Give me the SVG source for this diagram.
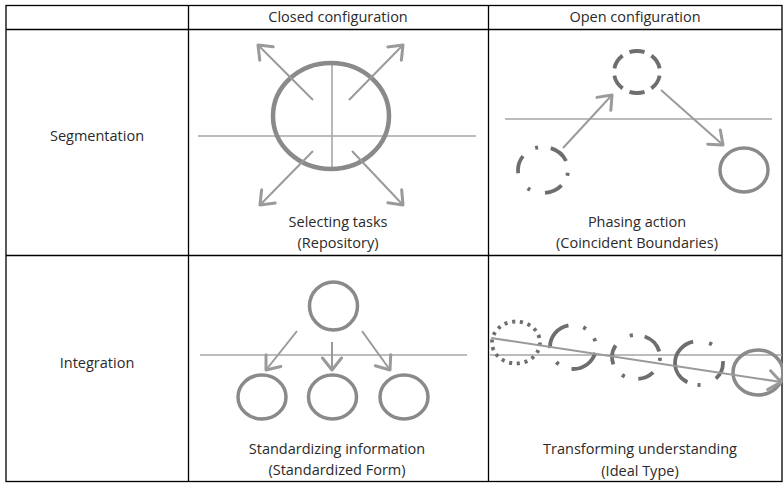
<svg xmlns="http://www.w3.org/2000/svg" width="783" height="484" viewBox="0 0 783 484">
  <style>
    text { font-family: "Open Sans", "Noto Sans", "Liberation Sans", sans-serif; font-size: 14.5px; fill: #2a2a2a; text-anchor: middle; }
    .grid { stroke: #000; stroke-width: 1.3; fill: none; }
    .axis { stroke: #a6a6a6; stroke-width: 1.6; fill: none; }
    .arrow { stroke: #9a9a9a; stroke-width: 2; fill: none; marker-end: url(#head); }
    .solid { stroke: #8a8a8a; stroke-width: 3.5; fill: none; }
    .big { stroke: #8a8a8a; stroke-width: 4.5; fill: none; }
    .broken { stroke: #6e6e6e; stroke-width: 3.8; fill: none; }
  </style>
  <defs>
    <!-- open chevron arrowhead -->
    <marker id="head" viewBox="0 0 18 22" refX="15" refY="11" markerWidth="18" markerHeight="22" markerUnits="userSpaceOnUse" orient="auto">
      <path d="M3,1.5 L15,11 L3,20.5" fill="none" stroke="#9a9a9a" stroke-width="3" stroke-linecap="round" stroke-linejoin="round"/>
    </marker>
  </defs>
  <rect width="783" height="484" fill="#fff"/>

  <!-- table grid -->
  <g id="table">
    <rect class="grid" x="6" y="5.5" width="776" height="476"/>
    <line class="grid" x1="6" y1="29.5" x2="782" y2="29.5"/>
    <line class="grid" x1="6" y1="255.5" x2="782" y2="255.5"/>
    <line class="grid" x1="188.5" y1="5.5" x2="188.5" y2="481.5"/>
    <line class="grid" x1="488.5" y1="5.5" x2="488.5" y2="481.5"/>
  </g>

  <!-- headers -->
  <g id="headers">
    <text x="338" y="22">Closed configuration</text>
    <text x="635" y="22">Open configuration</text>
    <text x="97" y="141">Segmentation</text>
    <text x="97" y="368">Integration</text>
  </g>

  <!-- reference axes inside the cells -->
  <g id="axes">
    <line class="axis" x1="198" y1="136" x2="476" y2="136"/>
    <line class="axis" x1="332" y1="62" x2="332" y2="169"/>
    <line class="axis" x1="505" y1="119" x2="772" y2="119"/>
    <line class="axis" x1="200" y1="355" x2="467" y2="355"/>
    <line class="axis" x1="490" y1="355" x2="782" y2="355"/>
  </g>

  <!-- Selecting tasks (Repository) -->
  <g id="repository">
    <ellipse class="big" cx="331" cy="116" rx="58" ry="53"/>
    <text x="338" y="227">Selecting tasks</text>
    <text x="338" y="248">(Repository)</text>
  </g>

  <!-- Phasing action (Coincident Boundaries) -->
  <g id="coincident-boundaries">
    <ellipse class="broken" cx="637" cy="72" rx="23" ry="21" pathLength="360" stroke-dasharray="40 20" stroke-dashoffset="-10"/>
    <ellipse class="broken" cx="543" cy="170" rx="25" ry="23" pathLength="360" stroke-dasharray="44 37 7 43 44 35 7 31 49 29 7 27" stroke-dashoffset="-41"/>
    <ellipse class="solid" cx="744" cy="170" rx="24" ry="22"/>
    <text x="637" y="227">Phasing action</text>
    <text x="637" y="248">(Coincident Boundaries)</text>
  </g>

  <!-- Standardizing information (Standardized Form) -->
  <g id="standardized-form">
    <ellipse class="solid" cx="333.5" cy="306" rx="24" ry="24"/>
    <ellipse class="solid" cx="262" cy="397" rx="24" ry="22"/>
    <ellipse class="solid" cx="332.5" cy="397" rx="24" ry="22"/>
    <ellipse class="solid" cx="404" cy="397" rx="24" ry="22"/>
    <text x="337" y="454">Standardizing information</text>
    <text x="337" y="475">(Standardized Form)</text>
  </g>

  <!-- Transforming understanding (Ideal Type) -->
  <g id="ideal-type">
    <ellipse class="broken" cx="516" cy="342.5" rx="24" ry="21" pathLength="360" stroke-dasharray="8 12" stroke-width="3.5"/>
    <ellipse class="broken" cx="573" cy="347" rx="23" ry="22" pathLength="360" stroke-dasharray="79 35 8 40 81 39 8 32 8 30" stroke-dashoffset="-15"/>
    <ellipse class="broken" cx="636" cy="357" rx="24" ry="22" pathLength="360" stroke-dasharray="41 35 8 34 50 43 8 30 54 16 8 33" stroke-dashoffset="-43"/>
    <ellipse class="broken" cx="699" cy="363" rx="24" ry="22" pathLength="360" stroke-dasharray="49 42 8 26 135 41 8 51" stroke-dashoffset="5"/>
    <ellipse class="solid" cx="758" cy="372.5" rx="25" ry="22.5"/>
    <text x="640" y="454">Transforming understanding</text>
    <text x="640" y="476">(Ideal Type)</text>
  </g>

  <!-- connectors -->
  <g id="connectors">
    <line class="arrow" x1="313" y1="100" x2="258" y2="45"/>
    <line class="arrow" x1="349" y1="100" x2="403" y2="45"/>
    <line class="arrow" x1="313" y1="151" x2="260" y2="205"/>
    <line class="arrow" x1="352" y1="151" x2="403" y2="205"/>
    <line class="arrow" x1="563" y1="148" x2="612" y2="95"/>
    <line class="arrow" x1="661" y1="90" x2="723" y2="145"/>
    <line class="arrow" x1="297" y1="331" x2="266" y2="370"/>
    <line class="arrow" x1="332" y1="342" x2="332" y2="370"/>
    <line class="arrow" x1="362" y1="331" x2="390" y2="370"/>
    <line class="arrow" x1="491" y1="338" x2="781" y2="382"/>
  </g>
</svg>
